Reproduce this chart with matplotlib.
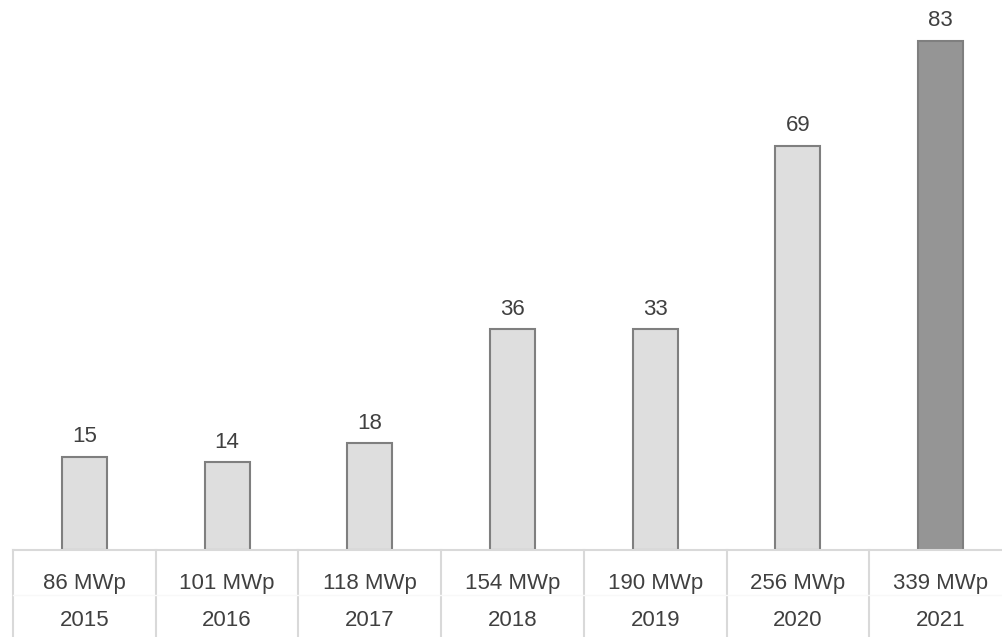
import matplotlib.pyplot as plt
import numpy as np

plt.rcParams['font.family'] = ['Liberation Sans', 'DejaVu Sans']

# data
years = ['2015', '2016', '2017', '2018', '2019', '2020', '2021']
capacity = ['86 MWp', '101 MWp', '118 MWp', '154 MWp', '190 MWp', '256 MWp', '339 MWp']
value_labels = [15, 14, 18, 36, 33, 69, 83]
bar_heights = [15.2, 14.3, 17.4, 36.0, 36.0, 65.9, 83.0]  # as drawn

W, H = 1002, 637
fig = plt.figure(figsize=(W / 100, H / 100), dpi=100)

# axes spans past right edge, as in the reference
ax_left, ax_bottom = 13 / W, (H - 550) / H
ax_w, ax_h = 999 / W, 545 / H
ax = fig.add_axes([ax_left, ax_bottom, ax_w, ax_h])

px_per_unit = 509 / 83
ax.set_ylim(0, ax_h * H / px_per_unit)
ax.set_xlim(-0.5, len(years) - 0.5)

x = np.arange(len(years))
colors = ['#dedede'] * (len(years) - 1) + ['#959595']
bars = ax.bar(x, bar_heights, width=0.315, color=colors, edgecolor='#7f7f7f', linewidth=1.5, zorder=2)

fs = 16
for b, lab in zip(bars, value_labels):
    ax.annotate(str(lab), (b.get_x() + b.get_width() / 2, b.get_height()),
                xytext=(0, 7), textcoords='offset points', ha='center', va='bottom',
                fontsize=fs, color='#404040')

for s in ax.spines.values():
    s.set_visible(False)
ax.set_xticks([])
ax.set_yticks([])

# category table below the axis
tr = ax.get_xaxis_transform()
ax.plot([-0.5, len(years) - 0.5], [0, 0], transform=tr, color='#d9d9d9', lw=1.5, clip_on=False, zorder=3)
bottom = -(87 / (ax_h * H))
for k in range(len(years)):
    ax.plot([k - 0.5, k - 0.5], [0, bottom], transform=tr, color='#d9d9d9', lw=1.5, clip_on=False)
row_y = -(45 / (ax_h * H))
ax.plot([-0.5, len(years) - 0.5], [row_y, row_y], transform=tr, color='#f8f8f8', lw=1, clip_on=False)

cap_y = -(34 / (ax_h * H))
year_y = -(71 / (ax_h * H))
for i in x:
    ax.text(i, cap_y, capacity[i], transform=tr, ha='center', va='center', fontsize=fs, color='#404040')
    ax.text(i, year_y, years[i], transform=tr, ha='center', va='center', fontsize=fs, color='#404040')

fig.savefig('out.png', dpi=100)
